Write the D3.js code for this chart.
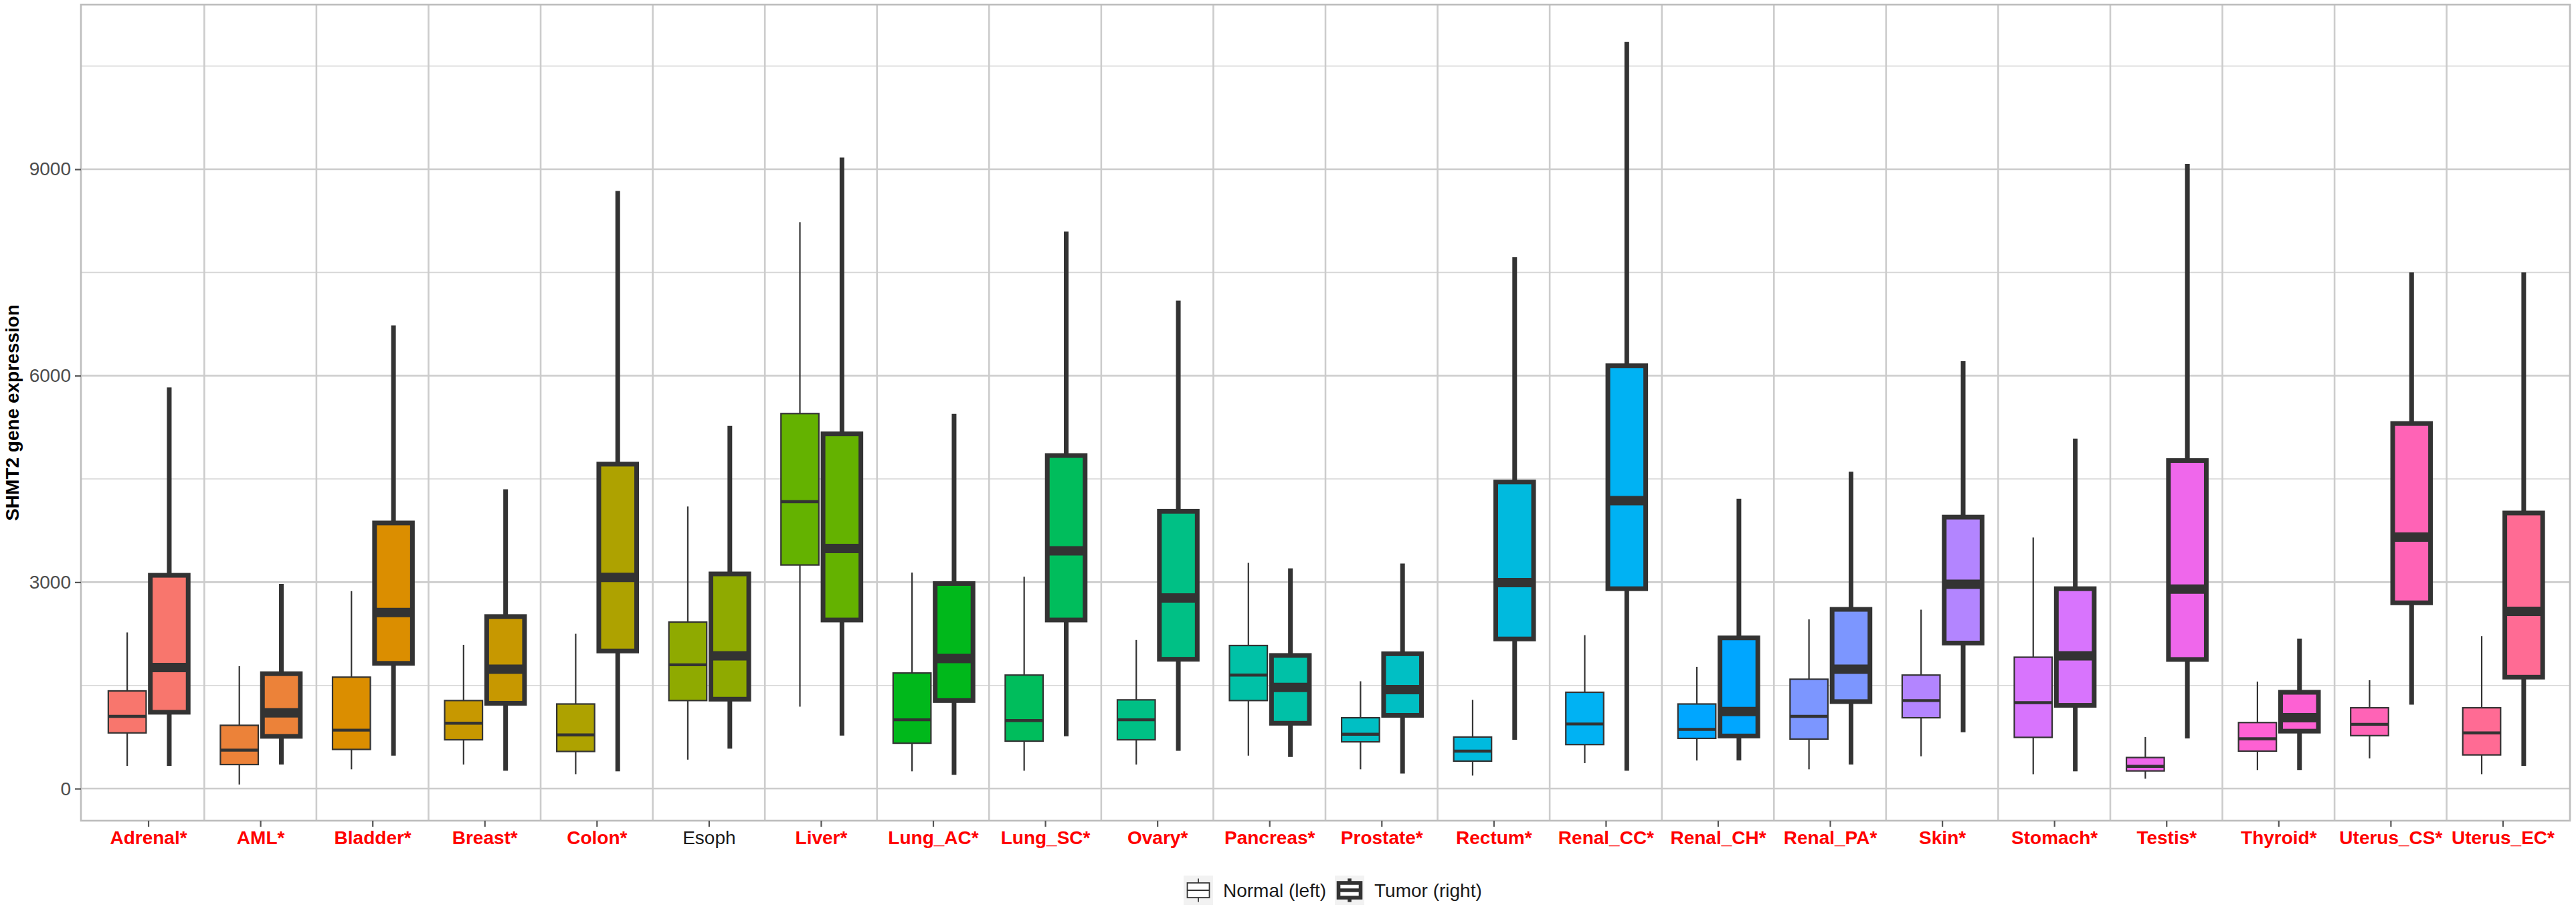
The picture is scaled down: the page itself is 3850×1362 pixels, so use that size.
<!DOCTYPE html>
<html>
<head>
<meta charset="utf-8">
<script src="https://cdn.jsdelivr.net/npm/d3@7/dist/d3.min.js"></script>
<style>
  body { margin: 0; background: #ffffff; }
  text { font-family: "Liberation Sans", Arial, Helvetica, sans-serif; }
</style>
</head>
<body>
<div id="chart"></div>
<script>

// -- data --
var categories = ["Adrenal", "AML", "Bladder", "Breast", "Colon", "Esoph", "Liver",
  "Lung_AC", "Lung_SC", "Ovary", "Pancreas", "Prostate", "Rectum", "Renal_CC",
  "Renal_CH", "Renal_PA", "Skin", "Stomach", "Testis", "Thyroid", "Uterus_CS", "Uterus_EC"];

var tickLabels = ["Adrenal*", "AML*", "Bladder*", "Breast*", "Colon*", "Esoph", "Liver*",
  "Lung_AC*", "Lung_SC*", "Ovary*", "Pancreas*", "Prostate*", "Rectum*", "Renal_CC*",
  "Renal_CH*", "Renal_PA*", "Skin*", "Stomach*", "Testis*", "Thyroid*", "Uterus_CS*", "Uterus_EC*"];

// normal tissue (left box of each pair)
var normalLow    = [330,  60,  280, 350, 210, 420, 1190, 250, 260, 350, 480, 280, 190, 370, 410, 280, 470, 210, 145, 270, 440, 210];
var normalQ1     = [810,  350, 570, 710, 540, 1280, 3250, 660, 690, 710, 1280, 680, 400, 640, 730, 720, 1030, 745, 257, 545, 770, 490];
var normalMedian = [1050, 560, 850, 950, 780, 1800, 4170, 1000, 990, 1000, 1650, 790, 545, 940, 860, 1050, 1280, 1250, 323, 725, 935, 810];
var normalQ3     = [1420, 920, 1620, 1280, 1230, 2420, 5450, 1680, 1650, 1290, 2080, 1030, 750, 1400, 1230, 1590, 1650, 1910, 452, 960, 1175, 1175];
var normalHigh   = [2270, 1780, 2870, 2090, 2250, 4100, 8230, 3140, 3080, 2160, 3280, 1560, 1290, 2230, 1770, 2460, 2600, 3650, 750, 1555, 1575, 2215];

// tumor tissue (right box of each pair)
var tumorLow    = [330,  350, 480, 260, 250, 580, 770, 200, 760, 550, 460, 220, 710, 260, 410, 350, 820, 250, 730, 270, 1220, 330];
var tumorQ1     = [1110, 760, 1820, 1240, 2000, 1300, 2450, 1280, 2450, 1880, 950, 1065, 2175, 2905, 765, 1265, 2115, 1210, 1877, 835, 2700, 1620];
var tumorMedian = [1760, 1100, 2560, 1735, 3070, 1930, 3490, 1890, 3455, 2770, 1470, 1440, 2995, 4185, 1120, 1735, 2970, 1930, 2900, 1030, 3655, 2575];
var tumorQ3     = [3100, 1670, 3860, 2500, 4715, 3120, 5155, 2980, 4840, 4030, 1935, 1960, 4455, 6145, 2190, 2605, 3945, 2905, 4767, 1400, 5305, 4005];
var tumorHigh   = [5830, 2975, 6730, 4350, 8685, 5270, 9170, 5445, 8095, 7090, 3200, 3270, 7725, 10850, 4210, 4605, 6210, 5085, 9077, 2180, 7500, 7500];

var yTicks = [0, 3000, 6000, 9000];
var yMinorTicks = [1500, 4500, 7500, 10500];
var legendLabels = ["Normal (left)", "Tumor (right)"];
var yTitle = "SHMT2 gene expression";


// -- layout --
var width = 3850, height = 1362;
var panel = {left: 121, right: 3841, top: 7, bottom: 1227};
var ink = "#333333";

// ggplot2 default discrete hue palette (polar LUV, c = 100, l = 65)
function hclToHex(h, c, l) {
  var XN = 95.047, YN = 100.000, ZN = 108.883;
  var tot = XN + YN + ZN, xw = XN / tot, yw = YN / tot;
  var uN = 2 * xw / (6 * yw - xw + 1.5);
  var vN = 4.5 * yw / (6 * yw - xw + 1.5);
  var rad = h * Math.PI / 180;
  var U = c * Math.cos(rad), V = c * Math.sin(rad);
  var Y = YN * (l > 7.999592 ? Math.pow((l + 16) / 116, 3) : l / 903.3);
  var u = U / (13 * l) + uN, v = V / (13 * l) + vN;
  var X = 9.0 * Y * u / (4 * v);
  var Z = -X / 3 - 5 * Y + 3 * Y / v;
  function gtrans(t) {
    t = t > 0.00304 ? 1.055 * Math.pow(t, 1 / 2.4) - 0.055 : 12.92 * t;
    return Math.round(Math.max(0, Math.min(1, t)) * 255);
  }
  return d3.rgb(
    gtrans(( 3.240479 * X - 1.537150 * Y - 0.498535 * Z) / YN),
    gtrans((-0.969256 * X + 1.875992 * Y + 0.041556 * Z) / YN),
    gtrans(( 0.055648 * X - 0.204043 * Y + 1.057311 * Z) / YN)
  ).formatHex();
}

var colour = d3.scaleOrdinal()
  .domain(categories)
  .range(categories.map(function (d, i) { return hclToHex(15 + i * 360 / categories.length, 100, 65); }));

var x = d3.scalePoint()
  .domain(categories)
  .range([panel.left, panel.right])
  .padding(0.6);

var y = d3.scaleLinear()
  .domain([-466, 11391])
  .range([panel.bottom, panel.top]);

var step = x.step();

// two groups dodged inside each category
var groups = [
  {name: "normal", offset: -0.1875, lw: 2.2,
   low: normalLow, q1: normalQ1, med: normalMedian, q3: normalQ3, high: normalHigh},
  {name: "tumor", offset: 0.1875, lw: 7,
   low: tumorLow, q1: tumorQ1, med: tumorMedian, q3: tumorQ3, high: tumorHigh}
];
var boxWidth = 0.3375 * step;

var boxes = [];
groups.forEach(function (g) {
  categories.forEach(function (c, i) {
    boxes.push({cat: c, group: g.name, offset: g.offset, lw: g.lw,
      low: g.low[i], q1: g.q1[i], med: g.med[i], q3: g.q3[i], high: g.high[i]});
  });
});


var svg = d3.select("#chart").append("svg")
  .attr("width", width)
  .attr("height", height);

svg.append("rect")
  .attr("width", width).attr("height", height)
  .attr("fill", "#ffffff");

// -- grid --
var grid = svg.append("g").attr("class", "grid");

grid.selectAll("line.minor")
  .data(yMinorTicks)
  .join("line")
  .attr("class", "minor")
  .attr("x1", panel.left).attr("x2", panel.right)
  .attr("y1", function (d) { return y(d); })
  .attr("y2", function (d) { return y(d); })
  .attr("stroke", "#d6d6d6")
  .attr("stroke-width", 1.6);

grid.selectAll("line.major")
  .data(yTicks)
  .join("line")
  .attr("class", "major")
  .attr("x1", panel.left).attr("x2", panel.right)
  .attr("y1", function (d) { return y(d); })
  .attr("y2", function (d) { return y(d); })
  .attr("stroke", "#cccccc")
  .attr("stroke-width", 2.6);

// vertical separators between the categories
grid.selectAll("line.sep")
  .data(categories.slice(0, -1))
  .join("line")
  .attr("class", "sep")
  .attr("x1", function (d) { return x(d) + step / 2; })
  .attr("x2", function (d) { return x(d) + step / 2; })
  .attr("y1", panel.top).attr("y2", panel.bottom)
  .attr("stroke", "#cccccc")
  .attr("stroke-width", 2.6);

// -- boxplots --
var box = svg.append("g").attr("class", "boxes")
  .selectAll("g")
  .data(boxes)
  .join("g")
  .attr("transform", function (d) { return "translate(" + (x(d.cat) + d.offset * step) + ",0)"; });

box.append("line")
  .attr("x1", 0).attr("x2", 0)
  .attr("y1", function (d) { return y(d.low); })
  .attr("y2", function (d) { return y(d.high); })
  .attr("stroke", ink)
  .attr("stroke-width", function (d) { return d.lw; });

box.append("rect")
  .attr("x", -boxWidth / 2)
  .attr("width", boxWidth)
  .attr("y", function (d) { return y(d.q3); })
  .attr("height", function (d) { return y(d.q1) - y(d.q3); })
  .attr("fill", function (d) { return colour(d.cat); })
  .attr("stroke", ink)
  .attr("stroke-width", function (d) { return d.lw; });

box.append("line")
  .attr("x1", -boxWidth / 2).attr("x2", boxWidth / 2)
  .attr("y1", function (d) { return y(d.med); })
  .attr("y2", function (d) { return y(d.med); })
  .attr("stroke", ink)
  .attr("stroke-width", function (d) { return d.lw * 2; });

// panel border on top
svg.append("rect")
  .attr("x", panel.left).attr("y", panel.top)
  .attr("width", panel.right - panel.left)
  .attr("height", panel.bottom - panel.top)
  .attr("fill", "none")
  .attr("stroke", "#bdbdbd")
  .attr("stroke-width", 2.6);

// -- axes --
var yAxis = svg.append("g")
  .attr("transform", "translate(" + panel.left + ",0)")
  .call(d3.axisLeft(y).tickValues(yTicks).tickSize(9).tickPadding(6).tickFormat(d3.format("d")));
yAxis.select(".domain").remove();
yAxis.selectAll(".tick line").attr("stroke", "#555555").attr("stroke-width", 2.2);
yAxis.selectAll(".tick text")
  .attr("fill", "#4d4d4d")
  .attr("font-size", 28)
  .attr("font-family", "Liberation Sans, Arial, sans-serif");

var xAxis = svg.append("g")
  .attr("transform", "translate(0," + panel.bottom + ")")
  .call(d3.axisBottom(x).tickSize(9).tickPadding(6)
    .tickFormat(function (d, i) { return tickLabels[i]; }));
xAxis.select(".domain").remove();
xAxis.selectAll(".tick line").attr("stroke", "#555555").attr("stroke-width", 2.2);
xAxis.selectAll(".tick text")
  .attr("font-size", 28)
  .attr("font-family", "Liberation Sans, Arial, sans-serif")
  .attr("font-weight", function (d, i) { return tickLabels[i].slice(-1) === "*" ? "bold" : "normal"; })
  .attr("fill", function (d, i) { return tickLabels[i].slice(-1) === "*" ? "#ff0000" : "#1a1a1a"; });

svg.append("text")
  .attr("transform", "translate(28," + ((panel.top + panel.bottom) / 2) + ") rotate(-90)")
  .attr("text-anchor", "middle")
  .attr("font-size", 28)
  .attr("font-weight", "bold")
  .attr("fill", "#000000")
  .text(yTitle);

// -- legend (line width = normal / tumor) --
var keySize = 44;
var legendItems = [
  {label: legendLabels[0], lw: groups[0].lw, x: 1769},
  {label: legendLabels[1], lw: groups[1].lw, x: 1995}
];
var legend = svg.append("g")
  .attr("class", "legend")
  .attr("transform", "translate(0,1309)");

var item = legend.selectAll("g")
  .data(legendItems)
  .join("g")
  .attr("transform", function (d) { return "translate(" + d.x + ",0)"; });

item.append("rect")
  .attr("width", keySize).attr("height", keySize)
  .attr("fill", "#f2f2f2");

item.append("line")
  .attr("x1", keySize / 2).attr("x2", keySize / 2)
  .attr("y1", keySize * 0.1).attr("y2", keySize * 0.9)
  .attr("stroke", ink)
  .attr("stroke-width", function (d) { return d.lw * 0.8; });

item.append("rect")
  .attr("x", keySize * 0.125).attr("y", keySize * 0.25)
  .attr("width", keySize * 0.75).attr("height", keySize * 0.5)
  .attr("fill", "#ffffff")
  .attr("stroke", ink)
  .attr("stroke-width", function (d) { return d.lw * 0.8; });

item.append("line")
  .attr("x1", keySize * 0.125).attr("x2", keySize * 0.875)
  .attr("y1", keySize / 2).attr("y2", keySize / 2)
  .attr("stroke", ink)
  .attr("stroke-width", function (d) { return d.lw * 0.8; });

item.append("text")
  .attr("x", keySize + 15)
  .attr("y", keySize / 2)
  .attr("dy", "0.35em")
  .attr("font-size", 28)
  .attr("fill", "#1a1a1a")
  .text(function (d) { return d.label; });

</script>
</body>
</html>
